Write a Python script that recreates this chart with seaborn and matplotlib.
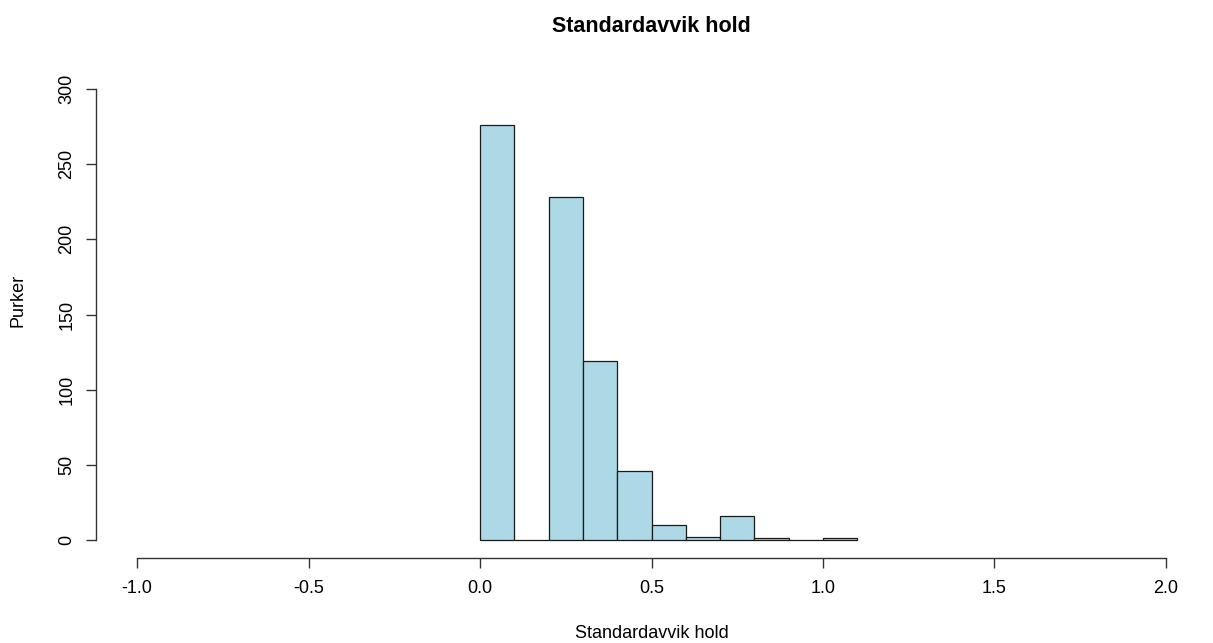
import matplotlib

matplotlib.use("Agg")

import matplotlib.pyplot as plt
import numpy as np
import seaborn as sns

TITLE = "Standardavvik hold"
X_LABEL = "Standardavvik hold"
Y_LABEL = "Purker"

BIN_EDGES = [0.0, 0.1, 0.2, 0.3, 0.4, 0.5, 0.6, 0.7, 0.8, 0.9, 1.0, 1.1]
BIN_COUNTS = [276, 0, 228, 119, 46, 10, 2, 16, 1, 0, 1]
X_TICKS = [-1.0, -0.5, 0.0, 0.5, 1.0, 1.5, 2.0]
Y_TICKS = [0, 50, 100, 150, 200, 250, 300]


def main() -> None:
    sns.set_theme(style="ticks")
    plt.rcParams["font.family"] = ["Liberation Sans", "DejaVu Sans"]
    plt.rcParams["text.color"] = "black"
    plt.rcParams["xtick.labelcolor"] = "black"
    plt.rcParams["ytick.labelcolor"] = "black"

    mids = (np.array(BIN_EDGES[:-1]) + np.array(BIN_EDGES[1:])) / 2

    fig = plt.figure(figsize=(12.13, 6.43), dpi=100)
    ax = fig.add_axes([96 / 1213, 85 / 643, (1207 - 96) / 1213, (558 - 71) / 643])

    sns.histplot(
        x=mids,
        weights=BIN_COUNTS,
        bins=BIN_EDGES,
        color="#ADD8E6",
        edgecolor="#1a1a1a",
        linewidth=0.9,
        alpha=1.0,
        ax=ax,
    )

    ax.set_xlim(-1.12, 2.12)
    ax.set_ylim(-12, 312)
    ax.set_xticks(X_TICKS)
    ax.set_xticklabels([f"{t:.1f}" for t in X_TICKS])
    ax.set_yticks(Y_TICKS)
    ax.set_yticklabels([str(t) for t in Y_TICKS], rotation=90, va="center")

    for side in ["top", "right"]:
        ax.spines[side].set_visible(False)
    ax.spines["bottom"].set_bounds(X_TICKS[0], X_TICKS[-1])
    ax.spines["left"].set_bounds(Y_TICKS[0], Y_TICKS[-1])
    for side in ["bottom", "left"]:
        ax.spines[side].set_linewidth(1.0)
        ax.spines[side].set_color("#333333")
    ax.tick_params(axis="both", length=7, width=1.0, color="#333333", labelsize=13, pad=8)
    ax.tick_params(axis="x", pad=9)

    ax.set_xlabel("")
    ax.set_ylabel("")
    fig.text(652 / 1213, 1 - 633 / 643, X_LABEL, ha="center", va="center", fontsize=13)
    fig.text(18 / 1213, 1 - 300 / 643, Y_LABEL, ha="center", va="center", rotation=90, fontsize=13)
    fig.text(651 / 1213, 1 - 27 / 643, TITLE, ha="center", va="center", fontsize=15.5, fontweight="bold")

    fig.savefig("out.png", dpi=100)
    plt.close(fig)


if __name__ == "__main__":
    main()
